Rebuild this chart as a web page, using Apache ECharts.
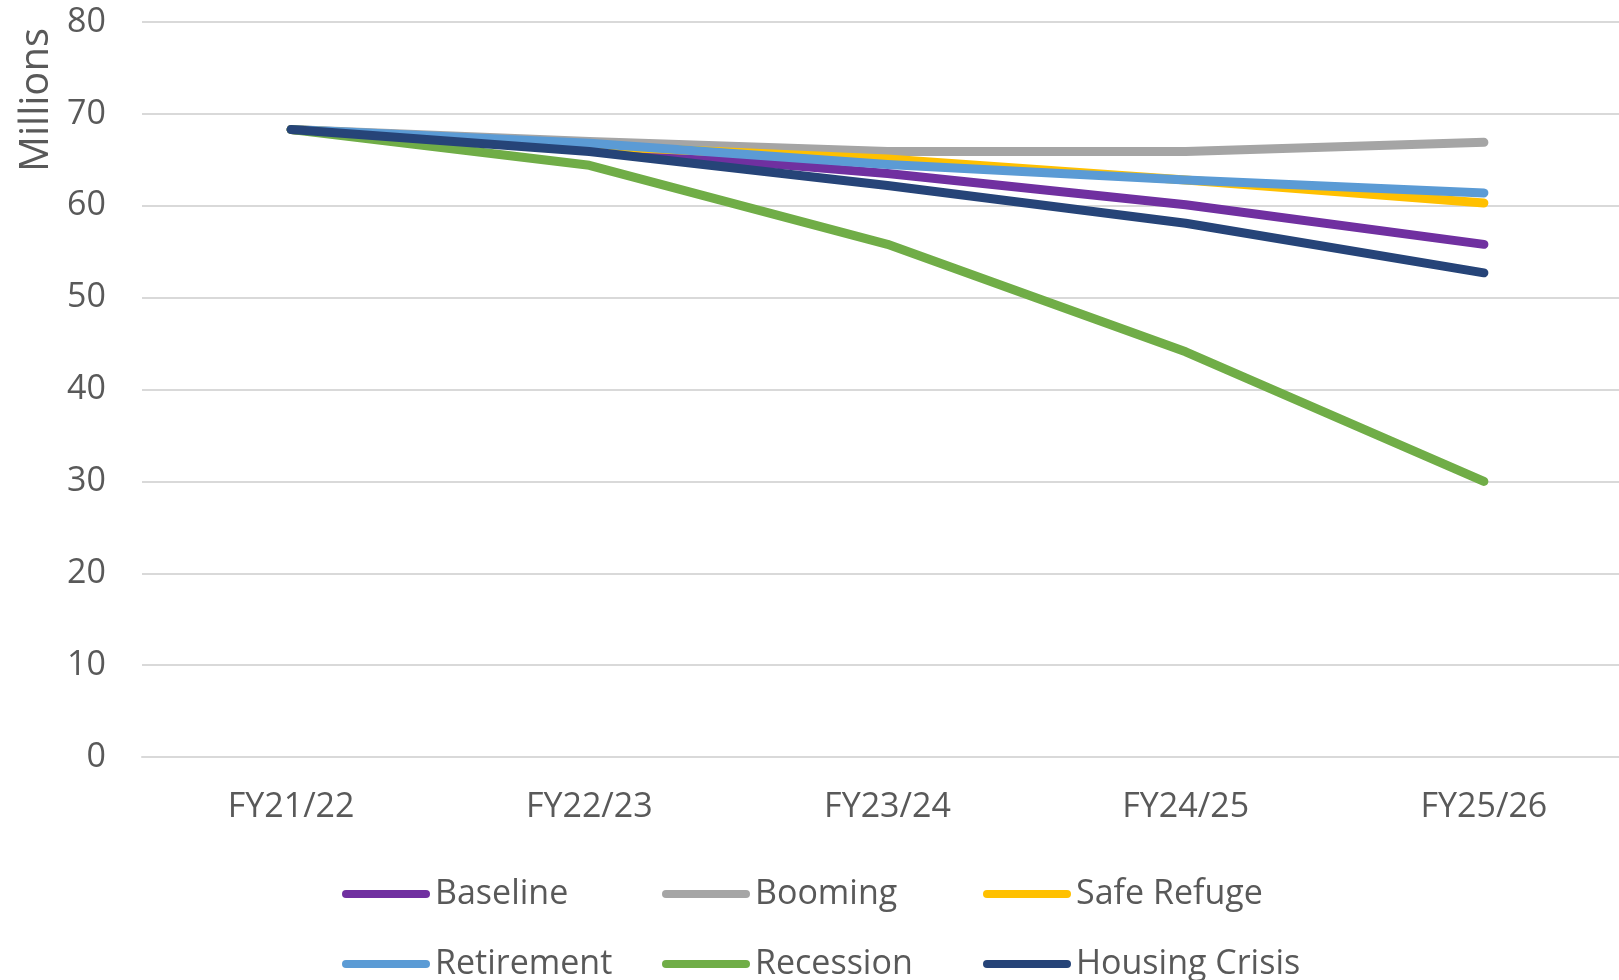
<!DOCTYPE html>
<html>
<head>
<meta charset="utf-8">
<script src="https://cdn.jsdelivr.net/npm/echarts@6/dist/echarts.min.js"></script>
<style>
  html, body { margin: 0; padding: 0; background: #fff; overflow: hidden; }
  #main { width: 1650px; height: 980px; }
</style>
</head>
<body>
<div id="main"></div>
<script>
// categories and values (millions)
const years = ['FY21/22', 'FY22/23', 'FY23/24', 'FY24/25', 'FY25/26'];
const baseline = [68.3, 66.2, 63.5, 60.1, 55.8];
const booming = [68.3, 67.0, 65.9, 65.9, 66.9];
const safeRefuge = [68.3, 66.5, 65.1, 62.8, 60.3];
const retirement = [68.3, 66.8, 64.5, 62.8, 61.4];
const recession = [68.3, 64.4, 55.8, 44.1, 30.0];
const housingCrisis = [68.3, 65.9, 62.2, 58.1, 52.7];
const yTicks = [0, 80, 10]; // min, max, interval
const names = ['Baseline', 'Booming', 'Safe Refuge', 'Retirement', 'Recession', 'Housing Crisis'];
const colors = ['#7030A0', '#A5A5A5', '#FFC000', '#5B9BD5', '#70AD47', '#264478'];

const font = '"Open Sans", sans-serif';
const labelColor = '#595959';

function makeLine(i, data) {
  return {
    name: names[i],
    type: 'line',
    data: data,
    showSymbol: false,
    symbol: 'none',
    color: colors[i],
    lineStyle: { width: 9, color: colors[i], cap: 'round', join: 'round' }
  };
}

// legend laid out as 3 columns x 2 rows, one legend per entry
const legendCols = [342, 662, 983];
const legendRows = [877, 947];
const legends = names.map(function (n, i) {
  return {
    left: legendCols[i % 3],
    top: legendRows[Math.floor(i / 3)],
    padding: 0,
    itemWidth: 88,
    itemHeight: 8,
    itemGap: 0,
    icon: 'path://M4,0 L84,0 A4,4 0 0 1 84,8 L4,8 A4,4 0 0 1 4,0 Z',
    textStyle: { color: labelColor, fontFamily: font, fontSize: 34, padding: [0, 0, 0, 0] },
    data: [n]
  };
});

const chart = echarts.init(document.getElementById('main'), null, { renderer: 'canvas' });

chart.setOption({
  animation: false,
  backgroundColor: '#fff',
  grid: { left: 142, top: 22, width: 1491, height: 735 },
  xAxis: {
    type: 'category',
    data: years,
    boundaryGap: true,
    axisTick: { show: false },
    axisLine: { show: true, lineStyle: { color: '#D9D9D9', width: 2 } },
    axisLabel: { color: labelColor, fontFamily: font, fontSize: 34, margin: 33 }
  },
  yAxis: {
    type: 'value',
    min: yTicks[0],
    max: yTicks[1],
    interval: yTicks[2],
    axisLine: { show: false },
    axisTick: { show: false },
    splitLine: { lineStyle: { color: '#D9D9D9', width: 2 } },
    axisLabel: { color: labelColor, fontFamily: font, fontSize: 34, margin: 36 }
  },
  legend: legends,
  graphic: [{
    type: 'text',
    left: 17,
    top: 28,
    rotation: Math.PI / 2,
    style: { text: 'Millions', fill: labelColor, font: '40px "Open Sans", sans-serif' }
  }],
  series: [
    makeLine(0, baseline),
    makeLine(1, booming),
    makeLine(2, safeRefuge),
    makeLine(3, retirement),
    makeLine(4, recession),
    makeLine(5, housingCrisis)
  ]
});
</script>
</body>
</html>
